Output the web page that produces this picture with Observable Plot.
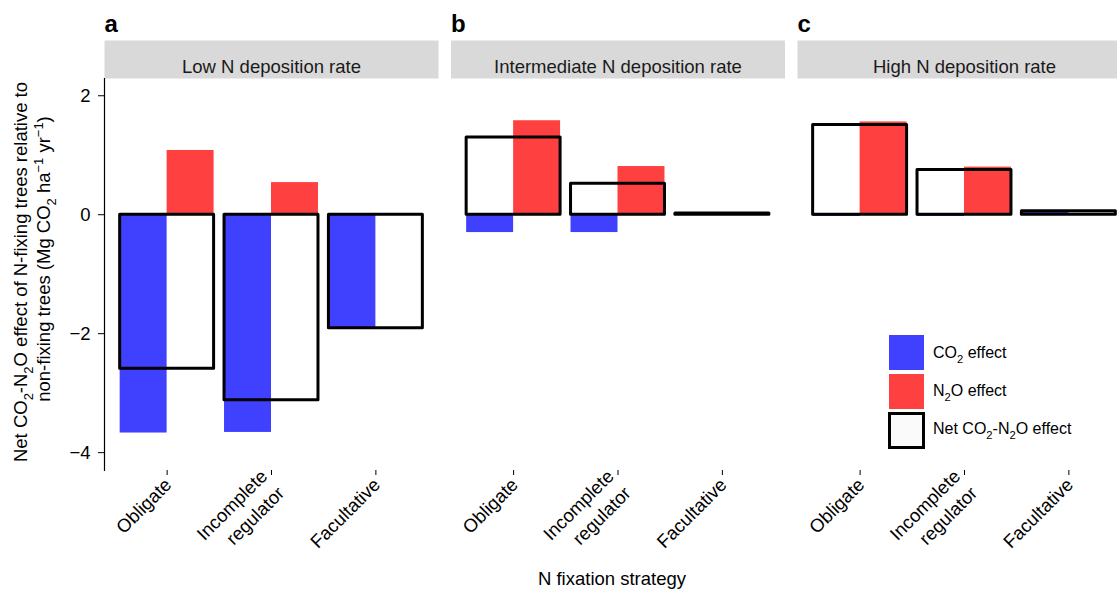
<!DOCTYPE html>
<html>
<head>
<meta charset="utf-8">
<script src="https://cdn.jsdelivr.net/npm/d3@7"></script>
<script src="https://cdn.jsdelivr.net/npm/@observablehq/plot@0.6"></script>
<style>
  html, body { margin: 0; padding: 0; background: white; overflow: hidden; }
</style>
</head>
<body>
<div id="chart"></div>
<script>
// ---- data ----
const panels = ["Low N deposition rate", "Intermediate N deposition rate", "High N deposition rate"];
const panelLetters = ["a", "b", "c"];
const strategies = ["Obligate", "Incomplete\nregulator", "Facultative"];

const co2Low = [-3.67, -3.66, -1.91];
const n2oLow = [1.08, 0.54, 0.0];
const netLow = [-2.59, -3.12, -1.91];

const co2Intermediate = [-0.30, -0.30, -0.01];
const n2oIntermediate = [1.58, 0.81, 0.03];
const netIntermediate = [1.30, 0.52, 0.02];

const co2High = [-0.03, -0.03, 0.05];
const n2oHigh = [1.56, 0.80, 0.01];
const netHigh = [1.51, 0.75, 0.06];

const yTicks = [-4, -2, 0, 2];

// ---- table ----
const co2Sets = [co2Low, co2Intermediate, co2High];
const n2oSets = [n2oLow, n2oIntermediate, n2oHigh];
const netSets = [netLow, netIntermediate, netHigh];
const rows = [];
panels.forEach((p, i) => strategies.forEach((s, j) => rows.push({
  panel: p, strategy: s, co2: co2Sets[i][j], n2o: n2oSets[i][j], net: netSets[i][j]
})));
const panelRows = panels.map((p, i) => ({panel: p, letter: panelLetters[i]}));

// ---- layout ----
const W = 1131, H = 589, ML = 104, MR = 0, MT = 78, MB = 119;
const fxPadInner = 0.036;
const xPadInner = 0.1, xPadOuter = 0.15;
const panelW = (W - ML - MR) / (panels.length - fxPadInner) * (1 - fxPadInner);
const xStep = panelW / (strategies.length - xPadInner + 2 * xPadOuter);
const halfBar = xStep * (1 - xPadInner) / 2;
const plotH = H - MT - MB;

const blue = "#4040ff", red = "#ff4040";
const font = "'Liberation Sans', Arial, Helvetica, sans-serif";

const chart = Plot.plot({
  width: W, height: H,
  marginLeft: ML, marginRight: MR, marginTop: MT, marginBottom: MB,
  style: {fontFamily: font, fontSize: "18px", color: "black", background: "white", overflow: "visible"},
  fx: {domain: panels, paddingInner: fxPadInner, paddingOuter: 0, axis: null, round: false},
  x: {domain: strategies, paddingInner: xPadInner, paddingOuter: xPadOuter, round: false},
  y: {domain: [-4.30, 2.29]},
  marks: [
    Plot.frame({fill: "#d9d9d9", stroke: "none", insetTop: -38, insetBottom: plotH}),
    Plot.text(panelRows, {fx: "panel", text: "panel", frameAnchor: "top", dy: -19, fontSize: 18.5, fill: "#1a1a1a"}),
    Plot.text(panelRows, {fx: "panel", text: "letter", frameAnchor: "top-left", textAnchor: "start", lineAnchor: "bottom", dy: -47, fontSize: 24, fontWeight: "bold"}),
    Plot.barY(rows, {fx: "panel", x: "strategy", y: "co2", fill: blue, insetRight: halfBar}),
    Plot.barY(rows, {fx: "panel", x: "strategy", y: "n2o", fill: red, insetLeft: halfBar}),
    Plot.barY(rows, {fx: "panel", x: "strategy", y: "net", fill: "none", stroke: "black", strokeWidth: 3, strokeLinejoin: "round"}),
    Plot.axisY({ticks: yTicks, tickSize: 6, tickPadding: 8, label: null, fontSize: 18.5, tickFormat: d => d < 0 ? "\u2212" + Math.abs(d) : String(d)}),
    Plot.frame({anchor: "left", facetAnchor: "left", strokeWidth: 1.2}),
    Plot.axisX({tickSize: 5, tickRotate: -45, tickPadding: 5, label: null, fontSize: 18.5, lineHeight: 1.3})
  ]
});

chart.style.maxWidth = "none";
document.getElementById("chart").appendChild(chart);

// ---- extra text: y label, x title, legend ----
const svg = d3.select(chart);
function rich(g, parts, size) {
  // parts: [text, shift]  shift: 0 normal, 1 subscript, -1 superscript
  let cur = 0;
  parts.forEach(([t, s]) => {
    const target = s === 1 ? size * 0.3 : s === -1 ? -size * 0.38 : 0;
    const ts = g.append("tspan").text(t).attr("dy", target - cur);
    if (s !== 0) ts.attr("font-size", size * 0.7);
    cur = target;
  });
}
const yl1 = svg.append("text").attr("transform", "translate(27,272) rotate(-90)")
  .attr("text-anchor", "middle").attr("font-size", 18.5).attr("fill", "black");
rich(yl1, [["Net CO", 0], ["2", 1], ["-N", 0], ["2", 1], ["O effect of N-fixing trees relative to", 0]], 18.5);
const yl2 = svg.append("text").attr("transform", "translate(50,259) rotate(-90)")
  .attr("text-anchor", "middle").attr("font-size", 18.5).attr("fill", "black");
rich(yl2, [["non-fixing trees (Mg CO", 0], ["2", 1], [" ha", 0], ["\u22121", -1], [" yr", 0], ["\u22121", -1], [")", 0]], 18.5);

svg.append("text").attr("x", 612).attr("y", 585).attr("text-anchor", "middle")
  .attr("font-size", 18.5).attr("fill", "black").text("N fixation strategy");

const lg = svg.append("g").attr("font-size", 16).attr("fill", "black").attr("text-anchor", "start");
lg.append("rect").attr("x", 889).attr("y", 335).attr("width", 35).attr("height", 35).attr("fill", blue);
lg.append("rect").attr("x", 889).attr("y", 374).attr("width", 35).attr("height", 35).attr("fill", red);
lg.append("rect").attr("x", 889.5).attr("y", 413.5).attr("width", 34).attr("height", 34)
  .attr("fill", "#fafafa").attr("stroke", "black").attr("stroke-width", 3);
rich(lg.append("text").attr("x", 933).attr("y", 358), [["CO", 0], ["2", 1], [" effect", 0]], 16);
rich(lg.append("text").attr("x", 933).attr("y", 396), [["N", 0], ["2", 1], ["O effect", 0]], 16);
rich(lg.append("text").attr("x", 933).attr("y", 434), [["Net CO", 0], ["2", 1], ["-N", 0], ["2", 1], ["O effect", 0]], 16);
</script>
</body>
</html>
